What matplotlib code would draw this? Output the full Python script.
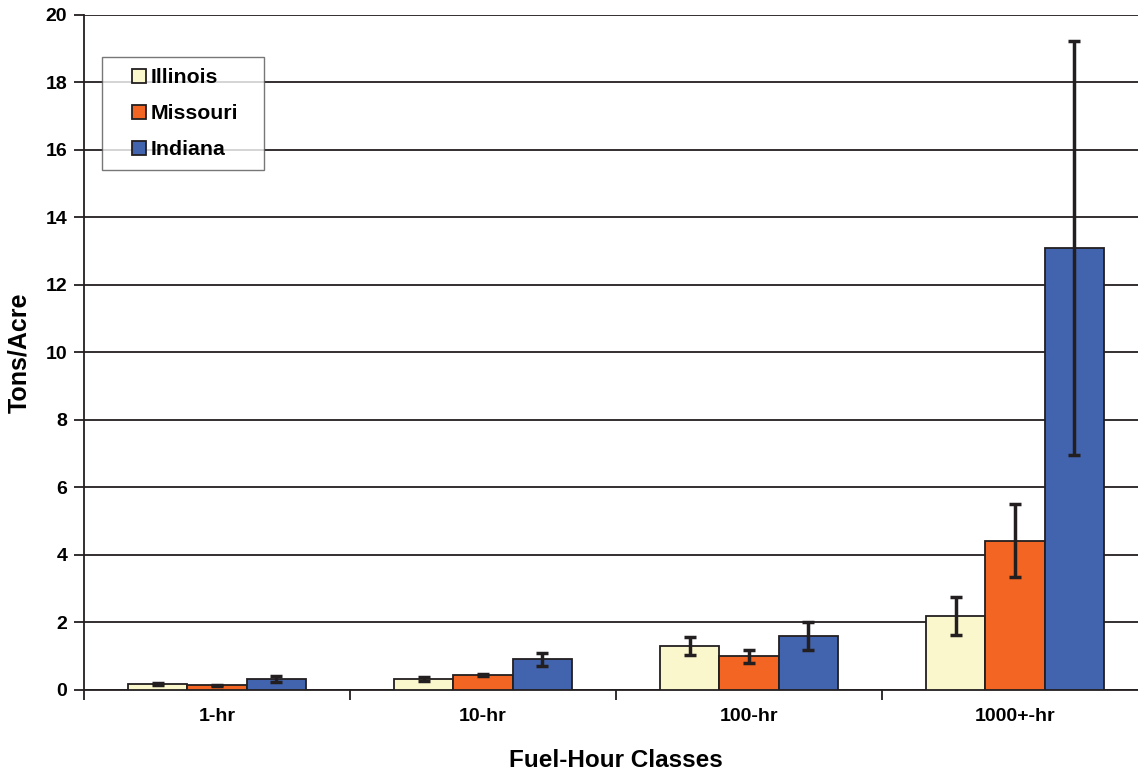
import numpy as np
import matplotlib.pyplot as plt
from matplotlib.patches import Rectangle
from matplotlib.container import BarContainer
from matplotlib.legend_handler import HandlerPatch, update_from_first_child

plt.rcParams['font.family'] = ['Liberation Sans', 'DejaVu Sans']
plt.rcParams['font.weight'] = 'bold'

classes = ["1-hr", "10-hr", "100-hr", "1000+-hr"]
states = ["Illinois", "Missouri", "Indiana"]
illinois = [0.17, 0.32, 1.31, 2.20]
missouri = [0.13, 0.43, 0.99, 4.42]
indiana = [0.32, 0.90, 1.60, 13.10]
illinois_err = [0.03, 0.05, 0.27, 0.56]
missouri_err = [0.02, 0.03, 0.18, 1.08]
indiana_err = [0.08, 0.20, 0.41, 6.13]

colors = ["#FAF7CC", "#F26522", "#4263AE"]
values = [illinois, missouri, indiana]
errors = [illinois_err, missouri_err, indiana_err]


def square_handle(legend, orig_handle, xdescent, ydescent, width, height, fontsize):
    # small square swatch sitting at the right end of the handle box
    s = 10.0
    return Rectangle((width - s - xdescent, -ydescent + (height - s) / 2), s, s)


fig = plt.figure(figsize=(11.38, 7.76), dpi=100)
ax = fig.add_axes([0.0738, 0.111, 0.935, 0.8697])

x = np.arange(len(classes))
w = 0.222
for i, (name, vals, errs, c) in enumerate(zip(states, values, errors, colors)):
    ax.bar(x + (i - 1) * w, vals, w, color=c, edgecolor="#231F20", linewidth=1.3,
           label=name, zorder=3,
           yerr=errs, error_kw=dict(ecolor="#231F20", elinewidth=2.5, capsize=4.5, capthick=2.5, zorder=4))

ax.set_xlim(-0.5, 3.5)
ax.set_ylim(0, 20)
ax.set_yticks(np.arange(0, 21, 2))
ax.yaxis.grid(True, color="#231F20", linewidth=1.3)
ax.set_axisbelow(True)

ax.set_xticks(x)
ax.set_xticklabels(classes, fontsize=14, fontweight="bold")
ax.set_xticks(np.arange(-0.5, 4, 1), minor=True)
ax.tick_params(axis="x", which="major", length=0, pad=13)
ax.tick_params(axis="x", which="minor", length=7, width=1.3, color="#231F20")
ax.tick_params(axis="y", length=7, width=1.3, color="#231F20", labelsize=14, pad=5)
for lab in ax.get_yticklabels():
    lab.set_fontweight("bold")

for s in ["top", "right"]:
    ax.spines[s].set_visible(False)
for s in ["left", "bottom"]:
    ax.spines[s].set_color("#231F20")
    ax.spines[s].set_linewidth(1.3)

ax.set_ylabel("Tons/Acre", fontsize=18, fontweight="bold", labelpad=10)
ax.set_xlabel("Fuel-Hour Classes", fontsize=17.5, fontweight="bold", labelpad=17)

sq = HandlerPatch(patch_func=square_handle, update_func=update_from_first_child)
leg = ax.legend(loc="upper left", bbox_to_anchor=(0.0169, 0.7775, 0.152, 0.16), mode="expand",
                fontsize=15.3, frameon=True, fancybox=False, edgecolor="#555555",
                handlelength=1.57, handleheight=0.8, handletextpad=0.24,
                labelspacing=0.78, borderpad=0.5, borderaxespad=0,
                handler_map={BarContainer: sq})
leg.get_frame().set_linewidth(1.0)
for t in leg.get_texts():
    t.set_fontweight("bold")

fig.savefig("out.png", dpi=100)
